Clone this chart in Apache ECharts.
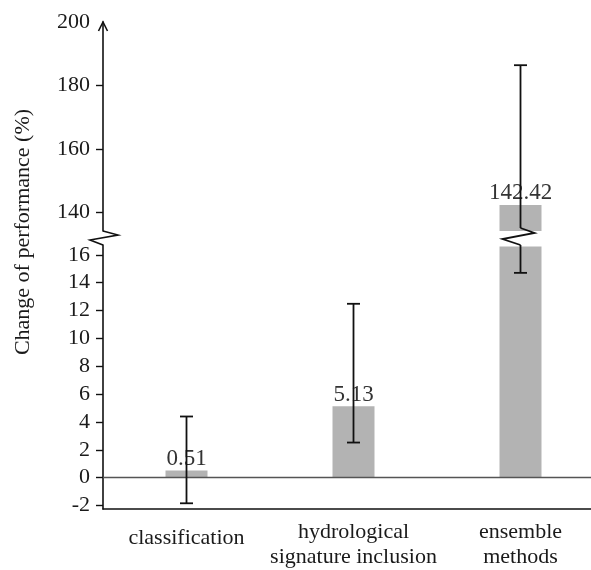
<!DOCTYPE html>
<html>
<head>
<meta charset="utf-8">
<script src="https://cdn.jsdelivr.net/npm/echarts@6/dist/echarts.min.js"></script>
<style>
html,body{margin:0;padding:0;background:#fff;}
#chart{width:591px;height:570px;}
</style>
</head>
<body>
<div id="chart"></div>
<script>
// ---- data ----
var categories = ['classification', 'hydrological\nsignature inclusion', 'ensemble\nmethods'];
var values = [0.51, 5.13, 142.42];
var errLow = [-1.84, 2.52, 14.7];
var errHigh = [4.39, 12.48, 186.4];
var lowerTicks = [-2, 0, 2, 4, 6, 8, 10, 12, 14, 16];
var upperTicks = [140, 160, 180];
var upperLabels = [140, 160, 180, 200];
var lowerRange = [-2.25, 16.7];
var upperRange = [134.2, 200];
var lowerBreak = 16.6;

var FONT = '"Liberation Serif", "Times New Roman", serif';
var TXT = '#1a1a1a';
var AX = '#111';

var chart = echarts.init(document.getElementById('chart'), null, {renderer: 'canvas'});

function errData() {
  return values.map(function (v, i) { return [i, errLow[i], errHigh[i]]; });
}

var capHalf = 6.5;

function renderErrLower(params, api) {
  var cs = params.coordSys;
  var i = api.value(0), lo = api.value(1), hi = api.value(2);
  var x = api.coord([i, 0])[0];
  var yLo = api.coord([i, lo])[1];
  var broken = hi > lowerRange[1];
  var yHi = broken ? cs.y : api.coord([i, hi])[1];
  var ch = [
    {type: 'line', shape: {x1: x, y1: yLo, x2: x, y2: yHi}, style: {stroke: AX, lineWidth: 1.8}},
    {type: 'line', shape: {x1: x - capHalf, y1: yLo, x2: x + capHalf, y2: yLo}, style: {stroke: AX, lineWidth: 1.8}}
  ];
  if (!broken) ch.push({type: 'line', shape: {x1: x - capHalf, y1: yHi, x2: x + capHalf, y2: yHi}, style: {stroke: AX, lineWidth: 1.8}});
  return {type: 'group', children: ch};
}

function renderErrUpper(params, api) {
  var cs = params.coordSys;
  var i = api.value(0), lo = api.value(1), hi = api.value(2);
  if (hi <= upperRange[0]) return null;
  var x = api.coord([i, upperRange[0]])[0];
  var yHi = api.coord([i, hi])[1];
  var broken = lo < upperRange[0];
  var yb = cs.y + cs.height;
  var yLo = broken ? yb - 3 : api.coord([i, lo])[1];
  var ch = [
    {type: 'line', shape: {x1: x, y1: yLo, x2: x, y2: yHi}, style: {stroke: AX, lineWidth: 1.8}},
    {type: 'line', shape: {x1: x - capHalf, y1: yHi, x2: x + capHalf, y2: yHi}, style: {stroke: AX, lineWidth: 1.8}}
  ];
  if (broken) {
    ch.push({type: 'polyline', shape: {points: [[x, yb - 3], [x + 14, yb + 2], [x - 18, yb + 8], [x, yb + 14]]},
      style: {stroke: AX, lineWidth: 1.8, fill: null}});
  }
  return {type: 'group', children: ch};
}

function renderAxisDecor(params, api) {
  var cs = params.coordSys;
  var x = cs.x, yt = cs.y, yb = cs.y + cs.height;
  return {type: 'group', children: [
    {type: 'polyline', shape: {points: [[x, yb], [x + 15, yb + 4], [x - 13, yb + 9], [x, yb + 14]]},
      style: {stroke: AX, lineWidth: 1.6, fill: null}},
    {type: 'polyline', shape: {points: [[x - 4.5, yt + 9], [x, yt], [x + 4.5, yt + 9]]},
      style: {stroke: AX, lineWidth: 1.6, fill: null}}
  ]};
}

var catData = categories.map(function (c) {
  return c.indexOf('\n') < 0 ? {value: c, textStyle: {padding: [6, 0, 0, 0]}} : c;
});

var option = {
  backgroundColor: '#fff',
  animation: false,
  grid: [
    {left: 103, right: -13, top: 22, height: 209, outerBoundsMode: 'none', containLabel: false},
    {left: 103, right: -13, top: 245, height: 264, outerBoundsMode: 'none', containLabel: false}
  ],
  xAxis: [
    {type: 'category', gridIndex: 0, data: catData, show: false},
    {type: 'category', gridIndex: 1, data: catData,
      axisLine: {onZero: false, lineStyle: {color: AX, width: 1.6}},
      axisTick: {alignWithLabel: true, length: 4, lineStyle: {color: AX, width: 1.4}},
      axisLabel: {fontFamily: FONT, fontSize: 22, color: TXT, lineHeight: 25, margin: 11, interval: 0, hideOverlap: false}
    }
  ],
  yAxis: [
    {type: 'value', gridIndex: 0, min: upperRange[0], max: upperRange[1],
      axisLine: {show: true, lineStyle: {color: AX, width: 1.6}},
      axisTick: {show: true, length: 7, customValues: upperTicks, lineStyle: {color: AX, width: 1.4}},
      axisLabel: {fontFamily: FONT, fontSize: 22, color: TXT, margin: 13, customValues: upperLabels},
      splitLine: {show: false}
    },
    {type: 'value', gridIndex: 1, min: lowerRange[0], max: lowerRange[1],
      axisLine: {show: true, lineStyle: {color: AX, width: 1.6}},
      axisTick: {show: true, length: 7, customValues: lowerTicks, lineStyle: {color: AX, width: 1.4}},
      axisLabel: {fontFamily: FONT, fontSize: 22, color: TXT, margin: 13, customValues: lowerTicks},
      splitLine: {show: false}
    }
  ],
  graphic: [{
    type: 'text', x: 23, y: 232, rotation: Math.PI / 2,
    style: {text: 'Change of performance (%)', font: '22px ' + FONT, fill: TXT, align: 'center', verticalAlign: 'middle'}
  }],
  series: [
    {type: 'bar', xAxisIndex: 0, yAxisIndex: 0, barWidth: 42,
      itemStyle: {color: '#b3b3b3'},
      data: values.map(function (v) { return v > upperRange[0] ? v : '-'; }),
      label: {show: true, position: 'top', distance: 0, fontFamily: FONT, fontSize: 23, color: '#333',
        formatter: function (p) { return values[p.dataIndex].toFixed(2); }}
    },
    {type: 'bar', xAxisIndex: 1, yAxisIndex: 1, barWidth: 42,
      itemStyle: {color: '#b3b3b3'},
      data: values.map(function (v) { return Math.min(v, lowerBreak); }),
      label: {show: true, position: 'top', distance: 0, fontFamily: FONT, fontSize: 23, color: '#333',
        formatter: function (p) { var v = values[p.dataIndex]; return v > lowerBreak ? '' : v.toFixed(2); }},
      markLine: {silent: true, symbol: 'none', label: {show: false},
        lineStyle: {color: '#555', width: 1.3, type: 'solid'},
        data: [{yAxis: 0}]}
    },
    {type: 'custom', xAxisIndex: 1, yAxisIndex: 1, renderItem: renderErrLower, data: errData(), z: 10, clip: false},
    {type: 'custom', xAxisIndex: 0, yAxisIndex: 0, renderItem: renderErrUpper, data: errData(), z: 10, clip: false},
    {type: 'custom', xAxisIndex: 0, yAxisIndex: 0, renderItem: renderAxisDecor, data: [[0, upperRange[1]]], z: 10, clip: false}
  ]
};
chart.setOption(option);
</script>
</body>
</html>
